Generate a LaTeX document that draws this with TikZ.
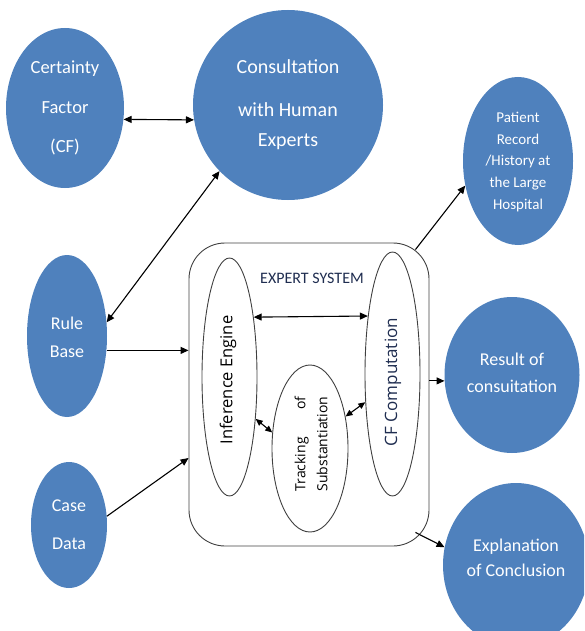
\documentclass[tikz,border=0pt]{standalone}
\usepackage{fontspec}
\setmainfont{Carlito}
\newfontfamily\shapefont{Open Sans}
\usetikzlibrary{shapes.geometric,arrows.meta}
\definecolor{blobblue}{HTML}{4F81BD}
\definecolor{framegray}{HTML}{404040}
\definecolor{navytext}{HTML}{1F2D50}
\newcommand\trackfont{\shapefont\fontsize{14}{22}\selectfont}
% two lines, the first spread to the width of the second
\newcommand\spreadpair[3]{{\setbox0\hbox{#3}\vbox{\hbox to\wd0{#1\hfill #2}\hbox{#3}}}}
\tikzset{
  blob/.style={ellipse, fill=blobblue, draw=none, inner sep=0pt},
  blobtext/.style={text=white, align=center, inner sep=0pt},
  inner/.style={ellipse, draw=framegray, line width=0.9pt, inner sep=0pt},
  link/.style={line width=1.1pt, -{Triangle[length=8pt,width=7pt]}},
  twoway/.style={line width=1.1pt, {Triangle[length=8pt,width=7pt]}-{Triangle[length=8pt,width=7pt]}},
  smallway/.style={line width=1.1pt, {Triangle[length=7pt,width=6pt]}-{Triangle[length=7pt,width=6pt]}}
}
\begin{document}
\begin{tikzpicture}[x=1pt,y=-1pt]
\useasboundingbox (0,0) rectangle (584,631);
\clip (0,0) rectangle (584,631);

% input and output bubbles
\node[blob, minimum width=118pt, minimum height=160pt] (cf) at (65,108) {};
\node[blobtext, font=\fontsize{18.5}{39.5}\selectfont] (cf-t) at (65,108) {Certainty\\Factor\\(CF)};

\node[blob, minimum width=190pt, minimum height=190pt] (ch) at (288,105) {};
\node[blobtext, font=\fontsize{20}{30}\selectfont] (ch-t) at (288,105) {Consultation\\[13pt]with Human\\Experts};

\node[blob, minimum width=110pt, minimum height=168pt] (pr) at (518,161) {};
\node[blobtext, font=\fontsize{15}{21.7}\selectfont] (pr-t) at (518,162) {Patient\\Record\\/History at\\the Large\\Hospital};

\node[blob, minimum width=80pt, minimum height=162pt] (rb) at (67,336) {};
\node[blobtext, font=\fontsize{18}{28}\selectfont] (rb-t) at (67,337) {Rule\\Base};

\node[blob, minimum width=76pt, minimum height=126pt] (cd) at (69,525) {};
\node[blobtext, font=\fontsize{18}{38}\selectfont] (cd-t) at (69,525) {Case\\Data};

\node[blob, minimum width=135pt, minimum height=156pt] (rs) at (512,375) {};
\node[blobtext, font=\fontsize{18}{27}\selectfont] (rs-t) at (512,373) {Result of\\consuitation};

\node[blob, minimum width=146pt, minimum height=164pt] (ex) at (516,565) {};
\node[blobtext, font=\fontsize{18}{25}\selectfont] (ex-t) at (516,558) {Explanation\\of Conclusion};

% the expert system frame and its parts
\node[draw=framegray, line width=0.9pt, rounded corners=36pt, minimum width=240pt, minimum height=303pt, inner sep=0pt] (es) at (309,394.5) {};
\node[text=navytext, font=\fontsize{16}{19}\selectfont, inner sep=0pt] (es-t) at (312,278) {EXPERT SYSTEM};

\node[inner, minimum width=55pt, minimum height=238pt] (ie) at (229.5,377) {};
\node[rotate=90, font=\shapefont\fontsize{16.5}{20}\selectfont, inner sep=0pt] (ie-t) at (228,380) {Inference Engine};

\node[inner, minimum width=55pt, minimum height=244pt] (cc) at (392.5,374) {};
\node[rotate=90, text=navytext, font=\shapefont\fontsize{17}{20}\selectfont, inner sep=0pt] (cc-t) at (393,382) {CF Computation};

\node[inner, minimum width=76pt, minimum height=167pt] (tr) at (310,448.5) {};
\node[rotate=90, font=\trackfont, inner sep=0pt] (tr-t) at (311,444) {\spreadpair{Tracking}{of}{Substantiation}};

% connectors
\draw[twoway] (cf.-11.5) -- (ch.189);
\draw[twoway] (rb.19) -- (ch.224);
\draw[link] (rb.-20) -- (rb.-20 -| es.west);
\draw[link] (cd.13) -- ([yshift=-63.5pt]es.west);
\draw[link] ([xshift=-14pt,yshift=-7pt]es.north east) -- (pr.205);
\draw[link] (rs.185 -| es.east) -- (rs.185);
\draw[link] ([xshift=-14pt,yshift=14pt]es.south east) -- (ex.166);

\draw[twoway] (ie.68) -- (cc.113.5);
\draw[smallway] (ie.-58) -- (tr.157);
\draw[smallway] (tr.42) -- (cc.226);
\end{tikzpicture}
\end{document}
